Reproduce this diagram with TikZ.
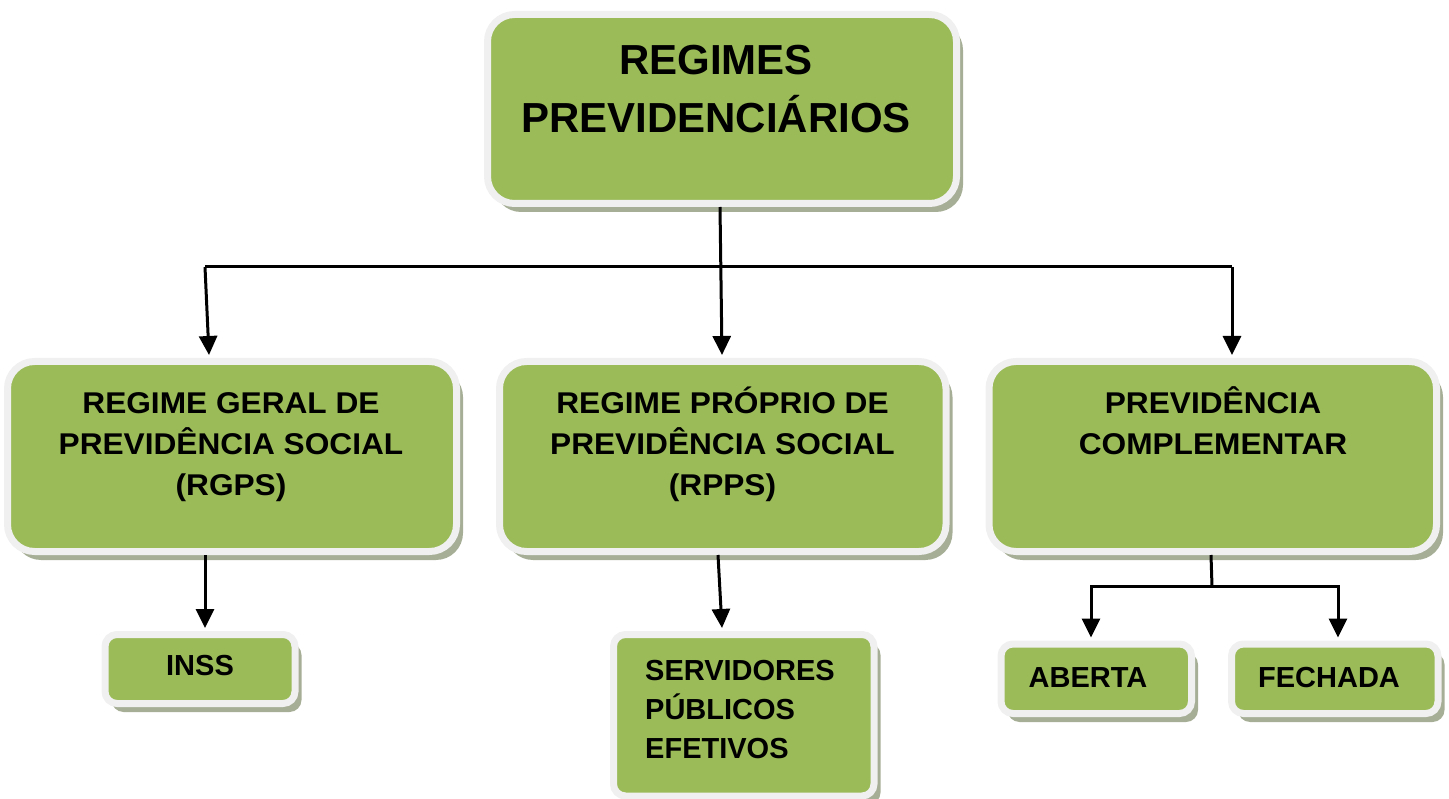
\documentclass[tikz,border=0pt]{standalone}
\usepackage{fontspec}
\setmainfont{Liberation Sans}
\newfontfamily\widefont[FakeStretch=1.055]{Liberation Sans}
\usetikzlibrary{arrows.meta,shadows,calc}
\definecolor{boxgreen}{RGB}{155,187,89}
\definecolor{framegray}{RGB}{240,240,240}
\definecolor{shadowc}{RGB}{166,174,150}
\begin{document}
\begin{tikzpicture}[x=1pt,y=-1pt,
  box/.style={draw=framegray, fill=boxgreen, line width=7pt, rounded corners=27pt,
    drop shadow={shadow xshift=6.5pt, shadow yshift=-8.5pt, fill=shadowc, opacity=1},
    inner sep=0pt},
  smallbox/.style={box, rounded corners=12pt},
  lbl/.style={inner sep=0pt, align=center},
  conn/.style={line width=3pt, draw=black},
  arr/.style={conn, -{Triangle[length=19pt,width=18pt]}}]
\useasboundingbox (0,0) rectangle (1449,799);
% boxes
\node[box, minimum width=469pt, minimum height=189pt] (top) at (722,109) {};
\node[box, minimum width=449pt, minimum height=190pt] (rgps) at (232,456.5) {};
\node[box, minimum width=446.5pt, minimum height=190pt] (rpps) at (722.75,456.5) {};
\node[box, minimum width=447.5pt, minimum height=190pt] (pc) at (1212.75,456.5) {};
\node[smallbox, minimum width=190pt, minimum height=69pt] (inss) at (200,669) {};
\node[smallbox, minimum width=260.5pt, minimum height=161.5pt] (serv) at (743.75,715.25) {};
\node[smallbox, minimum width=190.5pt, minimum height=69.5pt] (aberta) at (1096.25,678.75) {};
\node[smallbox, minimum width=206.5pt, minimum height=69.5pt] (fechada) at (1334.75,678.75) {};
% texts
\node[lbl, font=\fontsize{42}{58}\selectfont\bfseries, anchor=base] (ttop) at (716,133) {REGIMES\\PREVIDENCIÁRIOS};
\node[lbl, font=\widefont\fontsize{30}{41}\selectfont\bfseries, anchor=base] (trgps) at (231,496) {REGIME GERAL DE\\PREVIDÊNCIA SOCIAL\\(RGPS)};
\node[lbl, font=\widefont\fontsize{30}{41}\selectfont\bfseries, anchor=base] (trpps) at (722.5,496) {REGIME PRÓPRIO DE\\PREVIDÊNCIA SOCIAL\\(RPPS)};
\node[lbl, font=\widefont\fontsize{30}{41}\selectfont\bfseries, anchor=base] (tpc) at (1213,455) {PREVIDÊNCIA\\COMPLEMENTAR};
\node[lbl, font=\fontsize{29}{39}\selectfont\bfseries, anchor=base] (tinss) at (200,675) {INSS};
\node[lbl, align=left, font=\fontsize{29}{39}\selectfont\bfseries, anchor=base west] (tserv) at (645,758) {SERVIDORES\\PÚBLICOS\\EFETIVOS};
\node[lbl, font=\fontsize{29}{39}\selectfont\bfseries, anchor=base] (tab) at (1088,687) {ABERTA};
\node[lbl, font=\fontsize{29}{39}\selectfont\bfseries, anchor=base] (tfe) at (1329,687) {FECHADA};
% connectors
\coordinate (lt) at (205,267);
\coordinate (rt) at (1232,267);
\draw[conn] (lt) -- (rt);
\draw[arr] ($(top.south)+(-2,0)$) -- ($(rpps.north)+(-0.75,-3)$);
\draw[arr] (lt) -- ($(rgps.north)+(-23,-3)$);
\draw[arr] (rt) -- ($(pc.north)+(19.25,-3)$);
\draw[arr] ($(rgps.south)+(-27,0)$) -- ($(inss.north)+(5,-3)$);
\draw[arr] ($(rpps.south)+(-4.75,0)$) -- ($(serv.north)+(-21.75,-3)$);
\coordinate (pj) at (1212,586);
\draw[conn] ($(pc.south)+(-1.75,0)$) -- (pj);
\draw[arr] (pj) -| ($(aberta.north)+(-5.25,-3)$);
\draw[arr] (pj) -| ($(fechada.north)+(3.25,-3)$);
\end{tikzpicture}
\end{document}
